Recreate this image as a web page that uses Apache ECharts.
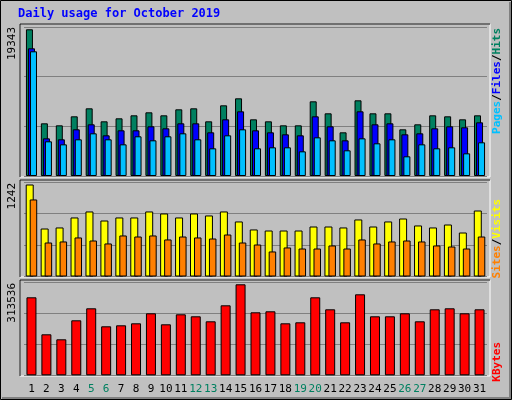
<!DOCTYPE html>
<html><head><meta charset="utf-8">
<script src="https://cdn.jsdelivr.net/npm/echarts@6/dist/echarts.min.js"></script>
<style>html,body{margin:0;padding:0;background:#c0c0c0}#c{width:512px;height:400px}</style>
</head><body><div id="c"></div>
<script>
const days = Array.from({length:31},(_,i)=>String(i+1));
const weekends = ['5','6','12','13','19','20','26','27'];
const hits = [19343,6946,6682,7869,8924,7210,7605,8001,8397,8001,8792,8924,7210,9320,10243,7473,7210,6682,6682,9847,8265,5759,9979,8265,8265,6155,6814,8001,7869,7473,8001];
const files = [16837,4967,4836,6154,6814,5363,6023,6023,6550,6286,6946,6946,5759,7473,8528,6023,5759,5495,5363,7869,6550,4704,8528,6814,6946,5495,5627,6286,6550,6418,7078];
const pages = [16441,4572,4176,4836,5627,4836,4176,5231,4704,5231,5627,4836,3649,5363,6154,3649,3781,3781,3253,5099,4704,3385,4967,4308,4836,2594,4176,3649,3781,2989,4440];
const visits = [1242,648,662,797,878,756,797,797,878,851,797,851,824,878,743,635,621,621,621,675,675,662,770,675,743,783,689,662,702,594,891];
const sites = [1040,459,473,527,486,446,554,540,554,500,540,527,513,567,459,432,338,392,378,378,419,378,500,446,473,486,473,419,405,378,540];
const kbytes = [268749,141266,124038,189503,230849,168830,172275,179166,213621,175720,210176,203285,186057,241185,313536,217067,220512,179166,182612,268749,227404,182612,279086,203285,203285,213621,186057,227404,230849,213621,227404];

const maxH = Math.max(...hits), maxV = Math.max(...visits), maxK = Math.max(...kbytes);
const axMax = [maxH*149/146.7, maxV*94.5/92, maxK*93/91];
const grids = [{top:27,height:149},{top:182,height:94.5},{top:282.3,height:93}];
const mono = '"DejaVu Sans Mono", monospace';
const bs = {borderColor:'#000',borderWidth:1};
function bar(name,data,idx,color,w,gap){return {type:'bar',name,data,xAxisIndex:idx,yAxisIndex:idx,barWidth:w,barGap:gap,itemStyle:Object.assign({color},bs),animation:false,silent:true};}

function panel(y1,y2){return [
 {type:'rect',shape:{x:20,y:y1,width:470,height:y2-y1},style:{fill:'#c0c0c0',stroke:'#fff',lineWidth:1},z:-10},
 {type:'polyline',shape:{points:[[20,y2],[20,y1],[490,y1]]},style:{stroke:'#000',lineWidth:1,fill:null},z:-9}
];}
function ylab(t,x,y){return {type:'text',x,y,rotation:Math.PI/2,style:{text:t,font:'11px '+mono,fill:'#000',align:'right',verticalAlign:'middle'},z:10};}
function rlab(rich,text,y){return {type:'text',x:497,y,rotation:Math.PI/2,style:{text,rich,font:'bold 11px '+mono,align:'right',verticalAlign:'middle'},z:10};}
const rf = c=>({fill:c,font:'bold 11px '+mono});

const chart = echarts.init(document.getElementById('c'));
chart.setOption({
 backgroundColor:'#c0c0c0',
 animation:false,
 grid: grids.map(g=>({left:24,width:463,top:g.top,height:g.height})),
 xAxis: [0,1,2].map(i=>({type:'category',data:days,gridIndex:i,axisLine:{show:false},axisTick:{show:false},
   axisLabel:{show:i===2,interval:0,margin:8,fontFamily:mono,fontSize:11,color:v=>weekends.includes(v)?'#008060':'#000'}})),
 yAxis: [0,1,2].map(i=>({type:'value',gridIndex:i,min:0,max:axMax[i],interval:axMax[i]/3,axisLabel:{show:false},axisLine:{show:false},axisTick:{show:false},
   splitLine:{show:true,lineStyle:{color:'#808080',width:1}}})),
 series:[
  bar('Hits',hits,0,'#008060',7,'-71%'),
  bar('Files',files,0,'#0000ff',7,'-71%'),
  bar('Pages',pages,0,'#00c0ff',7,'-71%'),
  bar('Visits',visits,1,'#ffff00',8,'-50%'),
  bar('Sites',sites,1,'#ff8000',7.5,'-50%'),
  bar('KBytes',kbytes,2,'#ff0000',10,'0%')
 ],
 graphic:[
  {type:'rect',shape:{x:0.5,y:0.5,width:511,height:399},style:{fill:null,stroke:'#000',lineWidth:1},z:-20},
  {type:'polyline',shape:{points:[[2,398],[510,398],[510,2]]},style:{stroke:'#808080',lineWidth:2,fill:null},z:-20},
  ...panel(24,177),...panel(180,277),...panel(280,376),
  {type:'text',x:18,y:14,style:{text:'Daily usage for October 2019',font:'bold 12px '+mono,fill:'#0000ff',verticalAlign:'middle'},z:10},
  ylab(String(maxH),12,27),ylab(String(maxV),12,183),ylab(String(maxK),12,283),
  rlab({p:rf('#00c0ff'),f:rf('#0000ff'),h:rf('#008060'),s:rf('#000')},'{p|Pages}{s|/}{f|Files}{s|/}{h|Hits}',28),
  rlab({v:rf('#ffff00'),si:rf('#ff8000'),s:rf('#000')},'{si|Sites}{s|/}{v|Visits}',199),
  rlab({k:rf('#ff0000')},'{k|KBytes}',342)
 ]
});
</script></body></html>
